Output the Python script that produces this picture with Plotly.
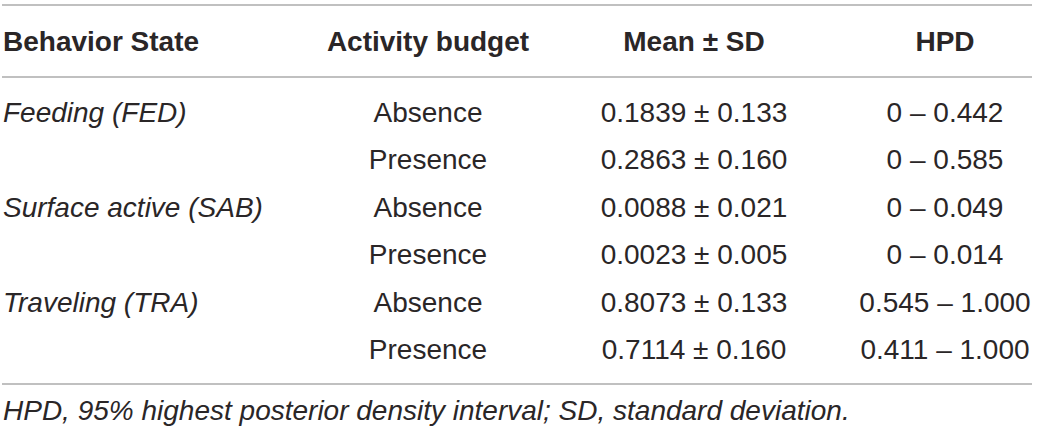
import plotly.graph_objects as go

# table content
headers = ["Behavior State", "Activity budget", "Mean \u00b1 SD", "HPD"]
states = ["Feeding (FED)", "", "Surface active (SAB)", "", "Traveling (TRA)", ""]
budget = ["Absence", "Presence", "Absence", "Presence", "Absence", "Presence"]
mean_sd = ["0.1839 \u00b1 0.133", "0.2863 \u00b1 0.160", "0.0088 \u00b1 0.021",
           "0.0023 \u00b1 0.005", "0.8073 \u00b1 0.133", "0.7114 \u00b1 0.160"]
hpd = ["0 \u2013 0.442", "0 \u2013 0.585", "0 \u2013 0.049",
       "0 \u2013 0.014", "0.545 \u2013 1.000", "0.411 \u2013 1.000"]
footnote = "HPD, 95% highest posterior density interval; SD, standard deviation."

W, H = 1039, 433
FONT = "Liberation Sans"
INK = "#2a2627"
RULE = "#ababab"
FS = 28

header_y = 44
row_y = [115 + 47.4 * i for i in range(len(budget))]
col_x = [3, 428, 694, 945]

fig = go.Figure()

# header row
fig.add_trace(go.Scatter(
    x=[col_x[0]], y=[header_y], text=["<b>" + headers[0] + "</b>"],
    mode="text", textposition="middle right",
    textfont=dict(family=FONT, size=FS, color=INK), hoverinfo="skip"))
fig.add_trace(go.Scatter(
    x=col_x[1:], y=[header_y] * 3, text=["<b>" + h + "</b>" for h in headers[1:]],
    mode="text", textposition="middle center",
    textfont=dict(family=FONT, size=FS, color=INK), hoverinfo="skip"))

# body
fig.add_trace(go.Scatter(
    x=[col_x[0]] * len(states), y=row_y, text=["<i>" + s + "</i>" for s in states],
    mode="text", textposition="middle right",
    textfont=dict(family=FONT, size=FS, color=INK), hoverinfo="skip"))
for cx, col in zip(col_x[1:], [budget, mean_sd, hpd]):
    fig.add_trace(go.Scatter(
        x=[cx] * len(col), y=row_y, text=col,
        mode="text", textposition="middle center",
        textfont=dict(family=FONT, size=FS, color=INK), hoverinfo="skip"))

# footnote
fig.add_trace(go.Scatter(
    x=[col_x[0]], y=[413], text=["<i>" + footnote + "</i>"],
    mode="text", textposition="middle right",
    textfont=dict(family=FONT, size=FS, color=INK), hoverinfo="skip"))

# rules
for yy in [5, 77, 384]:
    fig.add_shape(type="line", x0=2, x1=1032, y0=yy, y1=yy,
                  line=dict(color=RULE, width=1.5))

fig.update_layout(
    width=W, height=H, margin=dict(l=0, r=0, t=0, b=0),
    plot_bgcolor="white", paper_bgcolor="white", showlegend=False,
    xaxis=dict(range=[0, W], visible=False, fixedrange=True),
    yaxis=dict(range=[H, 0], visible=False, fixedrange=True),
)

fig.write_html("out.html", config={"displayModeBar": False},
               post_script="document.body.style.margin='0';")
